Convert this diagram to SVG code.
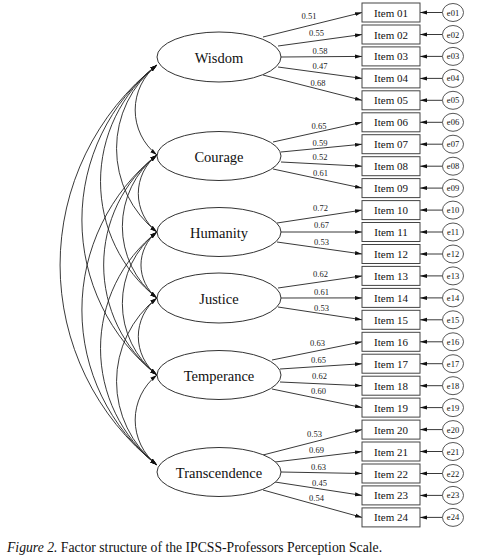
<svg xmlns="http://www.w3.org/2000/svg" width="485" height="558" viewBox="0 0 485 558" font-family="'Liberation Serif', 'Times New Roman', serif">
<style>
text{font-family:"Liberation Serif","Times New Roman",serif;fill:#111}
.lat ellipse{fill:#fff;stroke:#333;stroke-width:1}
.lat text{font-size:14.5px;text-anchor:middle}
.itm rect{fill:#fff;stroke:#444;stroke-width:1}
.itm text{font-size:11px;text-anchor:middle}
.err ellipse{fill:#fff;stroke:#444;stroke-width:0.9}
.err text{font-size:8.5px;text-anchor:middle}
#connectors path{fill:none;stroke:#222;stroke-width:0.9;marker-end:url(#ah)}
#connectors .cov path{marker-start:url(#ah)}
.ld{font-size:8.5px;fill:#222;text-anchor:middle}
.cap{font-size:13.7px}
</style>
<defs>
<marker id="ah" markerUnits="userSpaceOnUse" markerWidth="8" markerHeight="5" refX="7" refY="2" orient="auto-start-reverse" viewBox="0 0 8 4">
<path d="M0,0 L7,2 L0,4 z" fill="#111"/>
</marker>
</defs>
<rect width="485" height="558" fill="#fff"/>

<g id="connectors">
<g class="cov">
<path d="M157,65 A57.3,57.3 0 0 0 157,155"/>
<path d="M157,65 A106.4,106.4 0 0 0 157,232"/>
<path d="M157,65 A148.4,148.4 0 0 0 157,298"/>
<path d="M157,65 A197.5,197.5 0 0 0 157,375"/>
<path d="M157,65 A254.8,254.8 0 0 0 157,465"/>
<path d="M157,155 A49,49 0 0 0 157,232"/>
<path d="M157,155 A91.1,91.1 0 0 0 157,298"/>
<path d="M157,155 A140.1,140.1 0 0 0 157,375"/>
<path d="M157,155 A197.5,197.5 0 0 0 157,465"/>
<path d="M157,232 A42,42 0 0 0 157,298"/>
<path d="M157,232 A91.1,91.1 0 0 0 157,375"/>
<path d="M157,232 A148.4,148.4 0 0 0 157,465"/>
<path d="M157,298 A49,49 0 0 0 157,375"/>
<path d="M157,298 A106.4,106.4 0 0 0 157,465"/>
<path d="M157,375 A57.3,57.3 0 0 0 157,465"/>
</g>
<g class="load">
<path d="M263,37 L362,12.5"/>
<path d="M278,46 L362,34.5"/>
<path d="M281,57 L362,56.4"/>
<path d="M278,67 L362,78.4"/>
<path d="M263,75 L362,100.3"/>
<path d="M273,142 L362,122.3"/>
<path d="M281,152 L362,144.2"/>
<path d="M281,162 L362,166.2"/>
<path d="M273,169 L362,188.1"/>
<path d="M277,223 L362,210.1"/>
<path d="M281,232 L362,232"/>
<path d="M277,242 L362,254"/>
<path d="M278,288 L362,275.9"/>
<path d="M281,298 L362,297.9"/>
<path d="M278,307 L362,319.8"/>
<path d="M272,360 L362,341.8"/>
<path d="M280,369 L362,363.7"/>
<path d="M280,382 L362,385.7"/>
<path d="M272,389 L362,407.6"/>
<path d="M263,455 L362,429.6"/>
<path d="M275,462 L362,451.5"/>
<path d="M281,472 L362,473.5"/>
<path d="M275,482 L362,495.4"/>
<path d="M263,490 L362,517.4"/>
</g>
<g class="errs">
<path d="M442.5,12.5 L420,12.5"/>
<path d="M442.5,34.5 L420,34.5"/>
<path d="M442.5,56.4 L420,56.4"/>
<path d="M442.5,78.4 L420,78.4"/>
<path d="M442.5,100.3 L420,100.3"/>
<path d="M442.5,122.3 L420,122.3"/>
<path d="M442.5,144.2 L420,144.2"/>
<path d="M442.5,166.2 L420,166.2"/>
<path d="M442.5,188.1 L420,188.1"/>
<path d="M442.5,210.1 L420,210.1"/>
<path d="M442.5,232 L420,232"/>
<path d="M442.5,254 L420,254"/>
<path d="M442.5,275.9 L420,275.9"/>
<path d="M442.5,297.9 L420,297.9"/>
<path d="M442.5,319.8 L420,319.8"/>
<path d="M442.5,341.8 L420,341.8"/>
<path d="M442.5,363.7 L420,363.7"/>
<path d="M442.5,385.7 L420,385.7"/>
<path d="M442.5,407.6 L420,407.6"/>
<path d="M442.5,429.6 L420,429.6"/>
<path d="M442.5,451.5 L420,451.5"/>
<path d="M442.5,473.5 L420,473.5"/>
<path d="M442.5,495.4 L420,495.4"/>
<path d="M442.5,517.4 L420,517.4"/>
</g>
<g id="loadings">
<text class="ld" x="309" y="19">0.51</text>
<text class="ld" x="316.5" y="36">0.55</text>
<text class="ld" x="320" y="54">0.58</text>
<text class="ld" x="320" y="68.5">0.47</text>
<text class="ld" x="318" y="86">0.68</text>
<text class="ld" x="319" y="129">0.65</text>
<text class="ld" x="320" y="146">0.59</text>
<text class="ld" x="320" y="160">0.52</text>
<text class="ld" x="320.5" y="176">0.61</text>
<text class="ld" x="320.5" y="210.5">0.72</text>
<text class="ld" x="321.5" y="228">0.67</text>
<text class="ld" x="321.5" y="245">0.53</text>
<text class="ld" x="320.5" y="276.5">0.62</text>
<text class="ld" x="321.5" y="294.5">0.61</text>
<text class="ld" x="321.5" y="310.5">0.53</text>
<text class="ld" x="317.5" y="346">0.63</text>
<text class="ld" x="318.5" y="363">0.65</text>
<text class="ld" x="319.5" y="378.5">0.62</text>
<text class="ld" x="318.5" y="394">0.60</text>
<text class="ld" x="314.5" y="437">0.53</text>
<text class="ld" x="316.5" y="453">0.69</text>
<text class="ld" x="318.5" y="470">0.63</text>
<text class="ld" x="319.5" y="485.5">0.45</text>
<text class="ld" x="316.5" y="500.5">0.54</text>
</g>
</g>

<g id="wisdom" class="lat"><ellipse cx="219" cy="57" rx="62" ry="25"/><text x="219" y="63">Wisdom</text></g>
<g id="courage" class="lat"><ellipse cx="219" cy="156" rx="62" ry="24.5"/><text x="219" y="161.5">Courage</text></g>
<g id="humanity" class="lat"><ellipse cx="219" cy="232" rx="62" ry="24.5"/><text x="219" y="237.5">Humanity</text></g>
<g id="justice" class="lat"><ellipse cx="219" cy="298" rx="62" ry="25"/><text x="219" y="303.5">Justice</text></g>
<g id="temperance" class="lat"><ellipse cx="219" cy="375" rx="62" ry="24.5"/><text x="219" y="380.5">Temperance</text></g>
<g id="transcendence" class="lat"><ellipse cx="219" cy="472" rx="62" ry="24.5"/><text x="219" y="477.5">Transcendence</text></g>

<g id="item01" class="itm"><rect x="362" y="3" width="58" height="19"/><text x="391" y="16.5">Item 01</text></g>
<g id="item02" class="itm"><rect x="362" y="25" width="58" height="19"/><text x="391" y="38.5">Item 02</text></g>
<g id="item03" class="itm"><rect x="362" y="46.9" width="58" height="19"/><text x="391" y="60.4">Item 03</text></g>
<g id="item04" class="itm"><rect x="362" y="68.9" width="58" height="19"/><text x="391" y="82.4">Item 04</text></g>
<g id="item05" class="itm"><rect x="362" y="90.8" width="58" height="19"/><text x="391" y="104.3">Item 05</text></g>
<g id="item06" class="itm"><rect x="362" y="112.8" width="58" height="19"/><text x="391" y="126.3">Item 06</text></g>
<g id="item07" class="itm"><rect x="362" y="134.7" width="58" height="19"/><text x="391" y="148.2">Item 07</text></g>
<g id="item08" class="itm"><rect x="362" y="156.7" width="58" height="19"/><text x="391" y="170.2">Item 08</text></g>
<g id="item09" class="itm"><rect x="362" y="178.6" width="58" height="19"/><text x="391" y="192.1">Item 09</text></g>
<g id="item10" class="itm"><rect x="362" y="200.6" width="58" height="19"/><text x="391" y="214.1">Item 10</text></g>
<g id="item11" class="itm"><rect x="362" y="222.5" width="58" height="19"/><text x="391" y="236">Item 11</text></g>
<g id="item12" class="itm"><rect x="362" y="244.5" width="58" height="19"/><text x="391" y="258">Item 12</text></g>
<g id="item13" class="itm"><rect x="362" y="266.4" width="58" height="19"/><text x="391" y="279.9">Item 13</text></g>
<g id="item14" class="itm"><rect x="362" y="288.4" width="58" height="19"/><text x="391" y="301.9">Item 14</text></g>
<g id="item15" class="itm"><rect x="362" y="310.3" width="58" height="19"/><text x="391" y="323.8">Item 15</text></g>
<g id="item16" class="itm"><rect x="362" y="332.3" width="58" height="19"/><text x="391" y="345.8">Item 16</text></g>
<g id="item17" class="itm"><rect x="362" y="354.2" width="58" height="19"/><text x="391" y="367.7">Item 17</text></g>
<g id="item18" class="itm"><rect x="362" y="376.2" width="58" height="19"/><text x="391" y="389.7">Item 18</text></g>
<g id="item19" class="itm"><rect x="362" y="398.1" width="58" height="19"/><text x="391" y="411.6">Item 19</text></g>
<g id="item20" class="itm"><rect x="362" y="420.1" width="58" height="19"/><text x="391" y="433.6">Item 20</text></g>
<g id="item21" class="itm"><rect x="362" y="442" width="58" height="19"/><text x="391" y="455.5">Item 21</text></g>
<g id="item22" class="itm"><rect x="362" y="464" width="58" height="19"/><text x="391" y="477.5">Item 22</text></g>
<g id="item23" class="itm"><rect x="362" y="485.9" width="58" height="19"/><text x="391" y="499.4">Item 23</text></g>
<g id="item24" class="itm"><rect x="362" y="507.9" width="58" height="19"/><text x="391" y="521.4">Item 24</text></g>

<g id="e01" class="err"><ellipse cx="453" cy="12.5" rx="10.5" ry="9"/><text x="453" y="15.5">e01</text></g>
<g id="e02" class="err"><ellipse cx="453" cy="34.5" rx="10.5" ry="9"/><text x="453" y="37.5">e02</text></g>
<g id="e03" class="err"><ellipse cx="453" cy="56.4" rx="10.5" ry="9"/><text x="453" y="59.4">e03</text></g>
<g id="e04" class="err"><ellipse cx="453" cy="78.4" rx="10.5" ry="9"/><text x="453" y="81.4">e04</text></g>
<g id="e05" class="err"><ellipse cx="453" cy="100.3" rx="10.5" ry="9"/><text x="453" y="103.3">e05</text></g>
<g id="e06" class="err"><ellipse cx="453" cy="122.3" rx="10.5" ry="9"/><text x="453" y="125.3">e06</text></g>
<g id="e07" class="err"><ellipse cx="453" cy="144.2" rx="10.5" ry="9"/><text x="453" y="147.2">e07</text></g>
<g id="e08" class="err"><ellipse cx="453" cy="166.2" rx="10.5" ry="9"/><text x="453" y="169.2">e08</text></g>
<g id="e09" class="err"><ellipse cx="453" cy="188.1" rx="10.5" ry="9"/><text x="453" y="191.1">e09</text></g>
<g id="e10" class="err"><ellipse cx="453" cy="210.1" rx="10.5" ry="9"/><text x="453" y="213.1">e10</text></g>
<g id="e11" class="err"><ellipse cx="453" cy="232" rx="10.5" ry="9"/><text x="453" y="235">e11</text></g>
<g id="e12" class="err"><ellipse cx="453" cy="254" rx="10.5" ry="9"/><text x="453" y="257">e12</text></g>
<g id="e13" class="err"><ellipse cx="453" cy="275.9" rx="10.5" ry="9"/><text x="453" y="278.9">e13</text></g>
<g id="e14" class="err"><ellipse cx="453" cy="297.9" rx="10.5" ry="9"/><text x="453" y="300.9">e14</text></g>
<g id="e15" class="err"><ellipse cx="453" cy="319.8" rx="10.5" ry="9"/><text x="453" y="322.8">e15</text></g>
<g id="e16" class="err"><ellipse cx="453" cy="341.8" rx="10.5" ry="9"/><text x="453" y="344.8">e16</text></g>
<g id="e17" class="err"><ellipse cx="453" cy="363.7" rx="10.5" ry="9"/><text x="453" y="366.7">e17</text></g>
<g id="e18" class="err"><ellipse cx="453" cy="385.7" rx="10.5" ry="9"/><text x="453" y="388.7">e18</text></g>
<g id="e19" class="err"><ellipse cx="453" cy="407.6" rx="10.5" ry="9"/><text x="453" y="410.6">e19</text></g>
<g id="e20" class="err"><ellipse cx="453" cy="429.6" rx="10.5" ry="9"/><text x="453" y="432.6">e20</text></g>
<g id="e21" class="err"><ellipse cx="453" cy="451.5" rx="10.5" ry="9"/><text x="453" y="454.5">e21</text></g>
<g id="e22" class="err"><ellipse cx="453" cy="473.5" rx="10.5" ry="9"/><text x="453" y="476.5">e22</text></g>
<g id="e23" class="err"><ellipse cx="453" cy="495.4" rx="10.5" ry="9"/><text x="453" y="498.4">e23</text></g>
<g id="e24" class="err"><ellipse cx="453" cy="517.4" rx="10.5" ry="9"/><text x="453" y="520.4">e24</text></g>

<text class="cap" x="7" y="552"><tspan font-style="italic">Figure 2.</tspan> Factor structure of the IPCSS-Professors Perception Scale.</text>
</svg>
